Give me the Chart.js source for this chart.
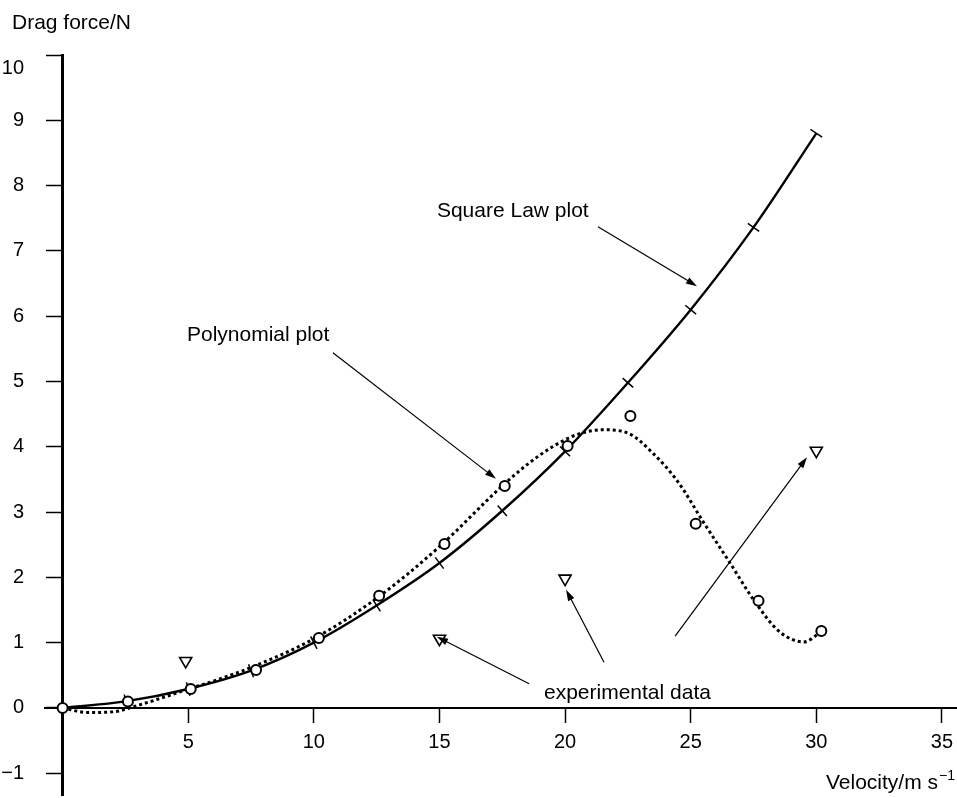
<!DOCTYPE html>
<html lang="en">
<head>
  <meta charset="UTF-8">
  <title>Drag force against velocity</title>
  <script src="https://cdn.jsdelivr.net/npm/chart.js"></script>
  <style>
    html, body { margin: 0; padding: 0; background: #fff; }
    .wrap { width: 957px; height: 798px; position: relative; }
  </style>
</head>
<body>
  <div class="wrap"><canvas id="dragChart"></canvas></div>
  <script>
    // Square law curve (solid, with small ticks)
    const squareV = [0, 2.5, 5, 7.5, 10, 12.5, 15, 17.5, 20, 22.5, 25, 27.5, 30];
    const squareF = [0, 0.1, 0.29, 0.57, 1.0, 1.57, 2.22, 3.02, 3.93, 4.98, 6.1, 7.36, 8.8];

    // Polynomial fit (dotted)
    const polyV = [0, 1, 2, 3, 4, 5, 6, 7.5, 10, 12.5, 15, 17.5, 18.5, 19.5, 20.5, 21.5, 22.5, 23.5, 24.5, 25.5, 26.5, 27.5, 28.5, 29.5, 30.2];
    const polyF = [0, -0.07, -0.06, 0.04, 0.16, 0.29, 0.41, 0.62, 1.06, 1.68, 2.47, 3.4, 3.73, 4.0, 4.19, 4.26, 4.21, 3.9, 3.46, 2.85, 2.26, 1.66, 1.18, 1.01, 1.17];

    // Circles
    const circleV = [0, 2.6, 5.1, 7.7, 10.2, 12.6, 15.2, 17.6, 20.1, 22.6, 25.2, 27.7, 30.2];
    const circleF = [0, 0.1, 0.29, 0.58, 1.07, 1.72, 2.51, 3.4, 4.01, 4.47, 2.82, 1.64, 1.18];

    // Experimental data (triangles)
    const expV = [4.9, 15.0, 20.0, 30.0];
    const expF = [0.72, 1.06, 1.98, 3.94];

    // Axis ticks
    const xTicks = [5, 10, 15, 20, 25, 30, 35];
    const yTicks = [-1, 0, 1, 2, 3, 4, 5, 6, 7, 8, 9, 10];

    // Annotations (data units)
    const labels = [
      { text: 'Square Law plot', x: 14.9, y: 7.52 },
      { text: 'Polynomial plot', x: 4.95, y: 5.62 },
      { text: 'experimental data', x: 19.16, y: 0.14 }
    ];
    const arrows = [
      { from: [21.31, 7.37], to: [25.25, 6.46] },
      { from: [10.76, 5.44], to: [17.25, 3.51] },
      { from: [18.57, 0.37], to: [14.9, 1.09] },
      { from: [21.55, 0.7], to: [20.04, 1.81] },
      { from: [24.38, 1.1], to: [29.63, 3.84] }
    ];

    const FONT = '"Liberation Sans", Arial, Helvetica, sans-serif';
    const pts = (xs, ys) => xs.map((x, i) => ({ x: x, y: ys[i] }));
    const minusFmt = v => (v < 0 ? '\u2212' + Math.abs(v) : String(v));
    const noPad = s => { s.paddingTop = 0; s.paddingBottom = 0; s.paddingLeft = 0; s.paddingRight = 0; };
    const Y_MAX = 10;

    // tick marks on the square law line sit across the curve
    function tickRotation(ctx) {
      const sx = ctx.chart.scales.x, sy = ctx.chart.scales.y;
      const i = ctx.dataIndex;
      const a = Math.max(i - 1, 0), b = Math.min(i + 1, squareV.length - 1);
      const dx = sx.getPixelForValue(squareV[b]) - sx.getPixelForValue(squareV[a]);
      const dy = sy.getPixelForValue(squareF[b]) - sy.getPixelForValue(squareF[a]);
      return Math.atan2(dy, dx) * 180 / Math.PI + 90;
    }

    const notesPlugin = {
      id: 'notes',
      afterDatasetsDraw(chart) {
        const { ctx, scales: { x, y } } = chart;
        ctx.save();
        ctx.fillStyle = '#000';
        ctx.strokeStyle = '#000';
        ctx.font = '21px ' + FONT;
        ctx.textBaseline = 'alphabetic';
        ctx.textAlign = 'left';
        labels.forEach(l => ctx.fillText(l.text, x.getPixelForValue(l.x), y.getPixelForValue(l.y)));

        ctx.lineWidth = 1.2;
        arrows.forEach(a => {
          const x0 = x.getPixelForValue(a.from[0]), y0 = y.getPixelForValue(a.from[1]);
          const x1 = x.getPixelForValue(a.to[0]), y1 = y.getPixelForValue(a.to[1]);
          const ang = Math.atan2(y1 - y0, x1 - x0);
          ctx.beginPath();
          ctx.moveTo(x0, y0);
          ctx.lineTo(x1 - Math.cos(ang) * 6, y1 - Math.sin(ang) * 6);
          ctx.stroke();
          ctx.beginPath();
          ctx.moveTo(x1, y1);
          ctx.lineTo(x1 - Math.cos(ang) * 11 + Math.sin(ang) * 3.5, y1 - Math.sin(ang) * 11 - Math.cos(ang) * 3.5);
          ctx.lineTo(x1 - Math.cos(ang) * 11 - Math.sin(ang) * 3.5, y1 - Math.sin(ang) * 11 + Math.cos(ang) * 3.5);
          ctx.closePath();
          ctx.fill();
        });

        // axis titles
        ctx.fillText('Drag force/N', 12, 29);
        const vx = 826, vy = 789;
        ctx.fillText('Velocity/m s', vx, vy);
        const w = ctx.measureText('Velocity/m s').width;
        ctx.font = '14px ' + FONT;
        ctx.fillText('\u22121', vx + w + 1, vy - 9);
        ctx.restore();
      }
    };

    const tickFont = { family: FONT, size: 20 };

    new Chart(document.getElementById('dragChart'), {
      type: 'scatter',
      data: {
        datasets: [
          {
            label: 'experimental data',
            data: pts(expV, expF),
            pointStyle: 'triangle',
            rotation: 180,
            radius: 7,
            borderWidth: 1.6,
            borderColor: '#000',
            backgroundColor: '#fff',
            order: 0
          },
          {
            label: 'circles',
            data: pts(circleV, circleF),
            pointStyle: 'circle',
            radius: 5,
            borderWidth: 2,
            borderColor: '#000',
            backgroundColor: '#fff',
            order: 1
          },
          {
            label: 'Polynomial plot',
            data: pts(polyV, polyF),
            showLine: true,
            cubicInterpolationMode: 'monotone',
            borderColor: '#000',
            borderWidth: 3,
            borderDash: [3, 3],
            borderCapStyle: 'butt',
            pointRadius: 0,
            order: 2
          },
          {
            label: 'Square Law plot',
            data: pts(squareV, squareF),
            showLine: true,
            cubicInterpolationMode: 'monotone',
            borderColor: '#000',
            borderWidth: 2.4,
            pointStyle: 'line',
            pointRadius: 7,
            pointBorderWidth: 1.5,
            pointBorderColor: '#000',
            pointRotation: tickRotation,
            order: 3
          }
        ]
      },
      options: {
        responsive: true,
        maintainAspectRatio: false,
        animation: false,
        layout: { autoPadding: false, padding: { left: 0, right: 0, top: 55, bottom: 3 } },
        plugins: {
          legend: { display: false },
          tooltip: { enabled: false }
        },
        scales: {
          x: {
            type: 'linear',
            position: { y: 0 },
            min: -0.7,
            max: 35.6,
            afterBuildTicks: s => { s.ticks = xTicks.map(v => ({ value: v })); },
            afterFit: noPad,
            grid: { drawOnChartArea: false, drawTicks: true, tickLength: 14, tickWidth: 1.5, tickColor: '#000' },
            border: { display: true, color: '#000', width: 2 },
            ticks: { color: '#000', font: tickFont, padding: 9, autoSkip: false, maxRotation: 0, callback: minusFmt }
          },
          y: {
            type: 'linear',
            position: { x: 0 },
            min: -1.333,
            max: Y_MAX,
            afterBuildTicks: s => { s.ticks = yTicks.map(v => ({ value: v })); },
            afterFit: noPad,
            grid: { drawOnChartArea: false, drawTicks: true, tickLength: 15, tickWidth: 1.5, tickColor: '#000' },
            border: { display: true, color: '#000', width: 3 },
            ticks: { display: false }
          },
          // label column for the y axis, left of the axis line
          // (the top label sits a little below its tick, as in the original)
          yLabels: {
            type: 'linear',
            position: 'left',
            min: -1.333,
            max: Y_MAX,
            afterBuildTicks: s => { s.ticks = yTicks.map(v => ({ value: v === Y_MAX ? v - 0.2 : v })); },
            afterFit: s => { noPad(s); s.width = 45; },
            grid: { display: false },
            border: { display: false },
            ticks: { color: '#000', font: tickFont, padding: 13, autoSkip: false, callback: (v, i) => minusFmt(yTicks[i]) }
          }
        }
      },
      plugins: [notesPlugin]
    });
  </script>
</body>
</html>
